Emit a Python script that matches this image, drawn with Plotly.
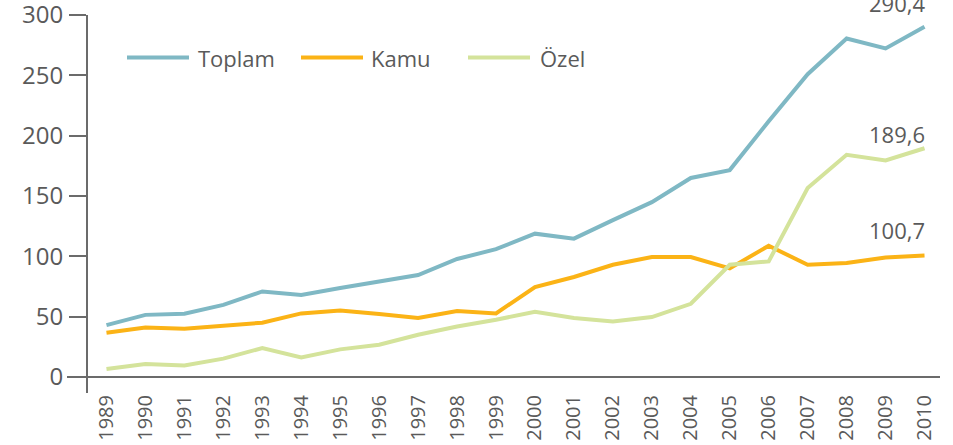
import plotly.graph_objects as go

years = [str(y) for y in range(1989, 2011)]
toplam = [43, 51.5, 52.4, 59.8, 70.9, 67.9, 73.7, 79.2, 84.5, 97.8, 106, 118.8,
          114.7, 130, 144.9, 165, 171.5, 212, 251, 280.6, 272.3, 290.4]
kamu = [36.7, 41.1, 40, 42.3, 45, 52.7, 55.2, 52.2, 48.9, 54.7, 52.7, 74.6,
        82.9, 93, 99.4, 99.4, 90, 108.8, 93, 94.5, 99.1, 100.7]
ozel = [6.6, 10.8, 9.6, 15.2, 24, 16.2, 22.9, 26.8, 35, 41.9, 47.5, 54.1,
        48.9, 46, 49.7, 60.7, 93, 95.8, 156.6, 184.2, 179.5, 189.6]
series_names = ["Toplam", "Kamu", "Özel"]
colors = ["#7fb8c4", "#fbb316", "#d4e39b"]
end_labels = ["290,4", "100,7", "189,6"]
label_shift = [24, 26, 14]
y_ticks = [0, 50, 100, 150, 200, 250, 300]
Y_MAX = 310

FONT = "Open Sans"
GREY = "#5a5a5a"
AXIS = "#6b6b6b"

ML, MR, MT, MB = 87, 9, 3, 68
W_PLOT = 953 - ML - MR
H_PLOT = 445 - MT - MB

fig = go.Figure()
for name, vals, col in zip(series_names, [toplam, kamu, ozel], colors):
    fig.add_trace(go.Scatter(x=years, y=vals, mode="lines", name=name,
                             line=dict(color=col, width=4), showlegend=False,
                             cliponaxis=False))

last_idx = len(years) - 1
for vals, lab, sh in zip([toplam, kamu, ozel], end_labels, label_shift):
    fig.add_annotation(x=last_idx, y=vals[-1], text=lab, showarrow=False,
                       xanchor="right", yanchor="middle", yshift=sh, xshift=2,
                       font=dict(family=FONT, size=22, color=GREY))

# axis lines (crossing style)
fig.add_shape(type="line", xref="paper", yref="paper", x0=-20 / W_PLOT, x1=1 - 4 / W_PLOT,
              y0=0, y1=0, line=dict(color=AXIS, width=2), layer="below")
fig.add_shape(type="line", xref="paper", yref="paper", x0=0, x1=0,
              y0=-16 / H_PLOT, y1=y_ticks[-1] / Y_MAX, line=dict(color=AXIS, width=2),
              layer="below")

# custom legend
legend_items = [(127, 189, 196), (301, 363, 369), (468, 530, 538)]
leg_y = 1 - (57.5 - MT) / H_PLOT
for (lx0, lx1, tx), name, col in zip(legend_items, series_names, colors):
    fig.add_shape(type="line", xref="paper", yref="paper",
                  x0=(lx0 - ML) / W_PLOT, x1=(lx1 - ML) / W_PLOT,
                  y0=leg_y, y1=leg_y, line=dict(color=col, width=4))
    fig.add_annotation(xref="paper", yref="paper", x=(tx - ML) / W_PLOT,
                       y=leg_y, text=name, showarrow=False,
                       xanchor="left", yanchor="middle",
                       font=dict(family=FONT, size=22, color=GREY))

fig.update_layout(
    width=953, height=445,
    margin=dict(l=ML, r=MR, t=MT, b=MB, autoexpand=False),
    plot_bgcolor="white", paper_bgcolor="white",
    font=dict(family=FONT, color=GREY),
)
fig.update_xaxes(type="category", range=[-0.5, 21.5], showgrid=False, zeroline=False,
                 showline=False, ticks="", tickangle=-90, automargin=False,
                 tickfont=dict(family=FONT, size=20, color=GREY), ticklabelstandoff=13)
fig.update_yaxes(range=[0, Y_MAX], tickvals=y_ticks, showgrid=False, zeroline=False,
                 showline=False, ticks="outside", ticklen=17, tickwidth=2, automargin=False,
                 tickcolor=AXIS, tickfont=dict(family=FONT, size=24, color=GREY),
                 ticklabelstandoff=1, ticklabeloverflow="allow")

fig.write_html("out.html", config={"displayModeBar": False},
               post_script="document.body.style.margin='0px';document.body.style.overflow='hidden';")
